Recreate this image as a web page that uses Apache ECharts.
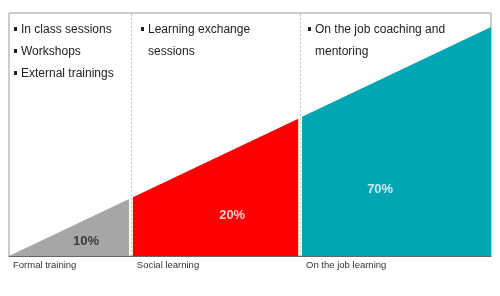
<!DOCTYPE html>
<html><head><meta charset="utf-8">
<script src="https://cdn.jsdelivr.net/npm/echarts@6/dist/echarts.min.js"></script>
<style>html,body{margin:0;padding:0;background:#fff}#c{width:500px;height:296px}</style>
</head><body><div id="c"></div>
<script>
// Data
var categories = ['Formal training', 'Social learning', 'On the job learning'];
var shares = [10, 20, 70];
var segStart = [0, 25.7, 60.8];      // x (% of width) where each wedge starts
var segEnd = [24.9, 60.0, 100];      // x where each wedge ends
var topStart = [0, 24.2, 57.3];      // wedge height at its start
var topEnd = [23.5, 56.5, 94.2];     // wedge height at its end
var dividers = [25.3, 60.4];
var labelX = [16, 46.3, 77];
var labelY = [6.2, 16.9, 27.6];
var bullets = [
  ['In class sessions', 'Workshops', 'External trainings'],
  ['Learning exchange', 'sessions'],
  ['On the job coaching and', 'mentoring']
];
var colors = ['#a6a6a6', '#ff0000', '#00a6b4'];
var labelColors = ['#222', '#fff', '#fff'];

var chart = echarts.init(document.getElementById('c'));
var FONT = 'Liberation Sans, Arial, sans-serif';
var series = categories.map(function (c, i) {
  return {
    name: c, type: 'line', symbol: 'none', silent: true,
    data: [[segStart[i], topStart[i]], [segEnd[i], topEnd[i]]],
    lineStyle: { width: 0 },
    areaStyle: { color: colors[i], opacity: 1 },
    z: 2
  };
});
series.push({
  type: 'line', data: [], silent: true,
  markLine: {
    symbol: 'none', silent: true, label: { show: false },
    lineStyle: { type: [2, 2], color: '#c8c8c8', width: 1 },
    data: dividers.map(function (d) { return { xAxis: d }; })
  }
});
series.push({
  type: 'scatter', symbolSize: 0, silent: true, z: 5,
  data: shares.map(function (s, i) { return { value: [labelX[i], labelY[i]], label: { color: labelColors[i] } }; }),
  label: {
    show: true, position: 'inside', fontFamily: FONT, fontWeight: 'bold', fontSize: 13,
    formatter: function (p) { return shares[p.dataIndex] + '%'; }
  }
});

chart.setOption({
  animation: false,
  grid: { left: 9, right: 9, top: 13, bottom: 40, show: true, borderColor: '#9a9a9a', borderWidth: 1 },
  xAxis: { type: 'value', min: 0, max: 100, axisLine: { show: true, lineStyle: { color: '#666' } },
    axisTick: { show: false }, axisLabel: { show: false }, splitLine: { show: false } },
  yAxis: { type: 'value', min: 0, max: 100, show: false, splitLine: { show: false } },
  series: series
});

// text annotations
var g = [];
var colX = [14, 141, 308];
bullets.forEach(function (lines, ci) {
  lines.forEach(function (t, li) {
    var y = 29 + li * 22;
    if (!(ci > 0 && li > 0)) {
      g.push({ type: 'rect', shape: { x: colX[ci], y: y - 2, width: 3, height: 4 }, style: { fill: '#222' }, z: 10 });
    }
    g.push({ type: 'text', x: colX[ci] + 7, y: y + 1, style: { text: t, fontFamily: FONT, fontSize: 12, fill: '#222', verticalAlign: 'middle' }, z: 10 });
  });
});
categories.forEach(function (c, i) {
  var p = chart.convertToPixel({ gridIndex: 0 }, [segStart[i], 0]);
  g.push({ type: 'text', x: p[0] + 4, y: p[1] + 9, style: { text: c, fontFamily: FONT, fontSize: 9.5, fill: '#333', verticalAlign: 'middle' }, z: 10 });
});
chart.setOption({ graphic: g });
</script></body></html>
